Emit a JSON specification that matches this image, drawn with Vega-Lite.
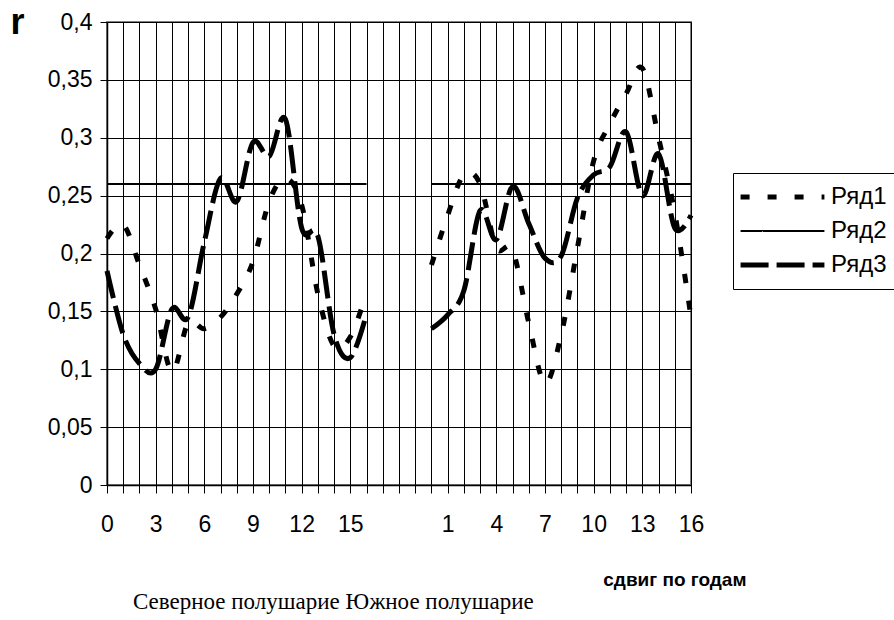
{
  "$schema": "https://vega.github.io/schema/vega-lite/v6.json",
  "width": 584,
  "height": 463,
  "autosize": {"type": "none"},
  "padding": {"left": 107, "top": 22, "right": 203, "bottom": 135},
  "background": "white",
  "config": {
    "font": "Liberation Sans",
    "view": {"stroke": "#808080", "strokeWidth": 2},
    "axis": {"labelFont": "Liberation Sans", "labelColor": "black", "domainColor": "black", "tickColor": "black", "gridColor": "black", "gridOpacity": 1, "gridWidth": 1, "titleColor": "black"}
  },
  "title": {"text": "Северное полушарие Южное полушарие", "orient": "bottom", "anchor": "start", "frame": "group", "font": "Liberation Serif", "fontSize": 23, "fontWeight": "normal", "color": "black", "dx": 26, "offset": 2},
  "data": {"values": [
    {"s":"Ряд1","h":"N","c":"N0","r":0.213},{"s":"Ряд1","h":"N","c":"N1","r":0.225},{"s":"Ряд1","h":"N","c":"N2","r":0.19},{"s":"Ряд1","h":"N","c":"N3","r":0.152},{"s":"Ряд1","h":"N","c":"N4","r":0.098},{"s":"Ряд1","h":"N","c":"N5","r":0.14},{"s":"Ряд1","h":"N","c":"N6","r":0.135},{"s":"Ряд1","h":"N","c":"N7","r":0.145},{"s":"Ряд1","h":"N","c":"N8","r":0.165},{"s":"Ряд1","h":"N","c":"N9","r":0.193},{"s":"Ряд1","h":"N","c":"N10","r":0.245},{"s":"Ряд1","h":"N","c":"N11","r":0.265},{"s":"Ряд1","h":"N","c":"N12","r":0.242},{"s":"Ряд1","h":"N","c":"N13","r":0.165},{"s":"Ряд1","h":"N","c":"N14","r":0.12},{"s":"Ряд1","h":"N","c":"N15","r":0.128},{"s":"Ряд1","h":"N","c":"N16","r":0.166},
    {"s":"Ряд1","h":"S","c":"S0","r":0.19},{"s":"Ряд1","h":"S","c":"S1","r":0.233},{"s":"Ряд1","h":"S","c":"S2","r":0.268},{"s":"Ряд1","h":"S","c":"S3","r":0.26},{"s":"Ряд1","h":"S","c":"S4","r":0.205},{"s":"Ряд1","h":"S","c":"S5","r":0.203},{"s":"Ряд1","h":"S","c":"S6","r":0.14},{"s":"Ряд1","h":"S","c":"S7","r":0.088},{"s":"Ряд1","h":"S","c":"S8","r":0.13},{"s":"Ряд1","h":"S","c":"S9","r":0.205},{"s":"Ряд1","h":"S","c":"S10","r":0.28},{"s":"Ряд1","h":"S","c":"S11","r":0.312},{"s":"Ряд1","h":"S","c":"S12","r":0.338},{"s":"Ряд1","h":"S","c":"S13","r":0.36},{"s":"Ряд1","h":"S","c":"S14","r":0.3},{"s":"Ряд1","h":"S","c":"S15","r":0.235},{"s":"Ряд1","h":"S","c":"S16","r":0.145},
    {"s":"Ряд2","h":"N","c":"N0","r":0.26},{"s":"Ряд2","h":"N","c":"N1","r":0.26},{"s":"Ряд2","h":"N","c":"N2","r":0.26},{"s":"Ряд2","h":"N","c":"N3","r":0.26},{"s":"Ряд2","h":"N","c":"N4","r":0.26},{"s":"Ряд2","h":"N","c":"N5","r":0.26},{"s":"Ряд2","h":"N","c":"N6","r":0.26},{"s":"Ряд2","h":"N","c":"N7","r":0.26},{"s":"Ряд2","h":"N","c":"N8","r":0.26},{"s":"Ряд2","h":"N","c":"N9","r":0.26},{"s":"Ряд2","h":"N","c":"N10","r":0.26},{"s":"Ряд2","h":"N","c":"N11","r":0.26},{"s":"Ряд2","h":"N","c":"N12","r":0.26},{"s":"Ряд2","h":"N","c":"N13","r":0.26},{"s":"Ряд2","h":"N","c":"N14","r":0.26},{"s":"Ряд2","h":"N","c":"N15","r":0.26},{"s":"Ряд2","h":"N","c":"N16","r":0.26},
    {"s":"Ряд2","h":"S","c":"S0","r":0.26},{"s":"Ряд2","h":"S","c":"S1","r":0.26},{"s":"Ряд2","h":"S","c":"S2","r":0.26},{"s":"Ряд2","h":"S","c":"S3","r":0.26},{"s":"Ряд2","h":"S","c":"S4","r":0.26},{"s":"Ряд2","h":"S","c":"S5","r":0.26},{"s":"Ряд2","h":"S","c":"S6","r":0.26},{"s":"Ряд2","h":"S","c":"S7","r":0.26},{"s":"Ряд2","h":"S","c":"S8","r":0.26},{"s":"Ряд2","h":"S","c":"S9","r":0.26},{"s":"Ряд2","h":"S","c":"S10","r":0.26},{"s":"Ряд2","h":"S","c":"S11","r":0.26},{"s":"Ряд2","h":"S","c":"S12","r":0.26},{"s":"Ряд2","h":"S","c":"S13","r":0.26},{"s":"Ряд2","h":"S","c":"S14","r":0.26},{"s":"Ряд2","h":"S","c":"S15","r":0.26},{"s":"Ряд2","h":"S","c":"S16","r":0.26},
    {"s":"Ряд3","h":"N","c":"N0","r":0.185},{"s":"Ряд3","h":"N","c":"N1","r":0.13},{"s":"Ряд3","h":"N","c":"N2","r":0.105},{"s":"Ряд3","h":"N","c":"N3","r":0.1},{"s":"Ряд3","h":"N","c":"N4","r":0.152},{"s":"Ряд3","h":"N","c":"N5","r":0.145},{"s":"Ряд3","h":"N","c":"N6","r":0.21},{"s":"Ряд3","h":"N","c":"N7","r":0.265},{"s":"Ряд3","h":"N","c":"N8","r":0.245},{"s":"Ряд3","h":"N","c":"N9","r":0.296},{"s":"Ряд3","h":"N","c":"N10","r":0.284},{"s":"Ряд3","h":"N","c":"N11","r":0.316},{"s":"Ряд3","h":"N","c":"N12","r":0.222},{"s":"Ряд3","h":"N","c":"N13","r":0.215},{"s":"Ряд3","h":"N","c":"N14","r":0.13},{"s":"Ряд3","h":"N","c":"N15","r":0.11},{"s":"Ряд3","h":"N","c":"N16","r":0.148},
    {"s":"Ряд3","h":"S","c":"S0","r":0.135},{"s":"Ряд3","h":"S","c":"S1","r":0.147},{"s":"Ряд3","h":"S","c":"S2","r":0.168},{"s":"Ряд3","h":"S","c":"S3","r":0.237},{"s":"Ряд3","h":"S","c":"S4","r":0.212},{"s":"Ряд3","h":"S","c":"S5","r":0.258},{"s":"Ряд3","h":"S","c":"S6","r":0.226},{"s":"Ряд3","h":"S","c":"S7","r":0.196},{"s":"Ряд3","h":"S","c":"S8","r":0.198},{"s":"Ряд3","h":"S","c":"S9","r":0.248},{"s":"Ряд3","h":"S","c":"S10","r":0.268},{"s":"Ряд3","h":"S","c":"S11","r":0.275},{"s":"Ряд3","h":"S","c":"S12","r":0.305},{"s":"Ряд3","h":"S","c":"S13","r":0.25},{"s":"Ряд3","h":"S","c":"S14","r":0.286},{"s":"Ряд3","h":"S","c":"S15","r":0.222},{"s":"Ряд3","h":"S","c":"S16","r":0.233}
  ]},
  "mark": {"type": "line", "interpolate": "cardinal", "color": "black", "strokeCap": "butt"},
  "encoding": {
    "x": {
      "field": "c", "type": "ordinal",
      "sort": ["N0","N1","N2","N3","N4","N5","N6","N7","N8","N9","N10","N11","N12","N13","N14","N15","N16","g1","g2","g3","S0","S1","S2","S3","S4","S5","S6","S7","S8","S9","S10","S11","S12","S13","S14","S15","S16"],
      "scale": {"type": "point", "padding": 0, "domain": ["N0","N1","N2","N3","N4","N5","N6","N7","N8","N9","N10","N11","N12","N13","N14","N15","N16","g1","g2","g3","S0","S1","S2","S3","S4","S5","S6","S7","S8","S9","S10","S11","S12","S13","S14","S15","S16"]},
      "axis": {
        "labelExpr": "indexof(['N0','N3','N6','N9','N12','N15','S1','S4','S7','S10','S13','S16'], datum.value) >= 0 ? substring(datum.value, 1) : ''",
        "labelAngle": 0, "labelFontSize": 23, "labelPadding": 20, "labelOverlap": false, "labelFlush": false,
        "tickSize": 8, "domainWidth": 1.5, "grid": true,
        "title": "сдвиг по годам", "titleFont": "Liberation Sans", "titleFontWeight": "bold", "titleFontSize": 19,
        "titleX": 639, "titleY": 100, "titleAlign": "right", "titleBaseline": "alphabetic"
      }
    },
    "y": {
      "field": "r", "type": "quantitative",
      "scale": {"domain": [0, 0.4], "nice": false, "zero": true},
      "axis": {
        "values": [0, 0.05, 0.1, 0.15, 0.2, 0.25, 0.3, 0.35, 0.4],
        "labelExpr": "replace(format(datum.value, '~g'), '.', ',')",
        "labelFontSize": 23, "labelPadding": 8, "tickSize": 7, "domainWidth": 1.5, "grid": true,
        "title": "r", "titleAngle": 0, "titleFontSize": 36, "titleFontWeight": "bold", "titleFont": "Liberation Sans",
        "titleX": -97, "titleY": 11, "titleAlign": "left", "titleBaseline": "alphabetic"
      }
    },
    "detail": {"field": "h", "type": "nominal"},
    "strokeWidth": {"condition": {"test": "datum.s === 'Ряд2'", "value": 2}, "value": 5},
    "strokeDash": {
      "field": "s", "type": "nominal",
      "scale": {"domain": ["Ряд1", "Ряд2", "Ряд3"], "range": [[9, 18], [1, 0], [28, 8]]},
      "legend": {
        "orient": "none", "legendX": 626, "legendY": 151, "title": null,
        "symbolType": "stroke", "symbolSize": 400, "symbolStrokeColor": "black",
        "labelFontSize": 24, "labelFont": "Liberation Sans", "labelColor": "black",
        "strokeColor": "black", "fillColor": "white", "padding": 12, "rowPadding": 10, "labelOffset": 62,
        "encode": {
          "symbols": {"update": {
            "size": {"value": 7030},
            "x": {"value": 37.5},
            "strokeWidth": {"signal": "datum.value === 'Ряд2' ? 2 : 5"}
          }}
        }
      }
    }
  }
}
